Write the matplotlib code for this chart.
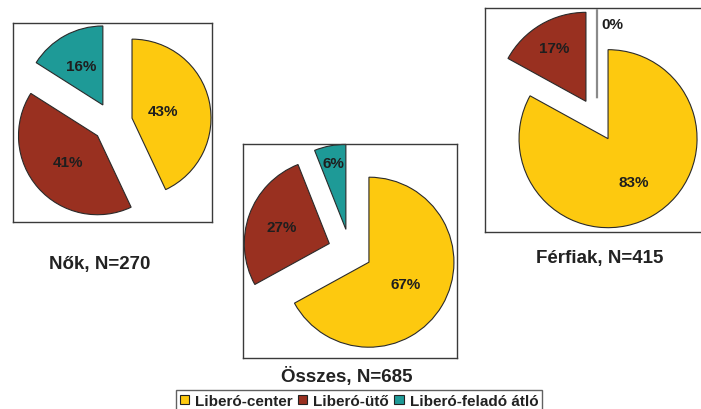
import matplotlib.pyplot as plt
from matplotlib.patches import Patch
import numpy as np

plt.rcParams['font.family'] = ['Liberation Sans', 'DejaVu Sans']
plt.rcParams['font.weight'] = 'bold'

# data
categories = ['Liberó-center', 'Liberó-ütő', 'Liberó-feladó átló']
colors = ['#FDC90F', '#993020', '#1E9A97']

nok_values = [43, 41, 16]
osszes_values = [67, 27, 6]
ferfiak_values = [83, 17, 0]

titles = ['Nők, N=270', 'Összes, N=685', 'Férfiak, N=415']

W, H = 701, 410
fig = plt.figure(figsize=(W / 100, H / 100), dpi=100)


def pie_box(values, box, radius, explode, label_dist):
    # box = (left, top, width, height) in pixels
    l, t, w, h = box
    ax = fig.add_axes([l / W, 1 - (t + h) / H, w / W, h / H])
    wedges, texts, autotexts = ax.pie(
        values, colors=colors, radius=radius, explode=[explode] * len(values),
        startangle=90, counterclock=False, autopct='%.0f%%', frame=True,
        wedgeprops=dict(edgecolor='#2a2a2a', linewidth=0.8),
        textprops=dict(fontsize=11, fontweight='bold', color='#1e1e1e'))
    for v, wd, txt, d in zip(values, wedges, autotexts, label_dist):
        th = np.deg2rad((wd.theta1 + wd.theta2) / 2)
        cx, cy = wd.center
        x = cx + d * radius * np.cos(th)
        y = cy + d * radius * np.sin(th)
        if v == 0:
            wd.set_edgecolor('#8a8a8a')
            wd.set_linewidth(1.6)
            txt.set_ha('left')
            x = cx + 4
        txt.set_position((x, y))
    ax.set_xlim(-w / 2, w / 2)
    ax.set_ylim(-h / 2, h / 2)
    ax.set_xticks([])
    ax.set_yticks([])
    for s in ax.spines.values():
        s.set_color('#3a3a3a')
        s.set_linewidth(1.0)
    return ax


pie_box(nok_values, (13, 24, 199, 199), 79, 20, [0.40, 0.5, 0.57])
pie_box(osszes_values, (243, 145, 214, 214), 85, 22, [0.5, 0.59, 0.79])
pie_box(ferfiak_values, (485, 9, 224, 224), 89, 21.7, [0.56, 0.7, 0.83])

title_pos = [(100, 264), (347, 377), (600, 258)]
for (x, y), t in zip(title_pos, titles):
    fig.text(x / W, 1 - y / H, t, ha='center', va='center',
             fontsize=13.5, fontweight='bold', color='#222222')

handles = [Patch(facecolor=c, edgecolor='#222222', linewidth=0.8) for c in colors]
leg = fig.legend(handles, categories, loc='upper center', ncol=3,
                 bbox_to_anchor=(359 / W, 1 - 391 / H), fontsize=11,
                 frameon=True, fancybox=False, edgecolor='#3a3a3a',
                 handlelength=0.6, handleheight=0.6, handletextpad=0.4,
                 columnspacing=0.35, borderpad=0.25, borderaxespad=0)
leg.get_frame().set_linewidth(1.0)
for t in leg.get_texts():
    t.set_color('#222222')

fig.savefig('out.png', dpi=100)
